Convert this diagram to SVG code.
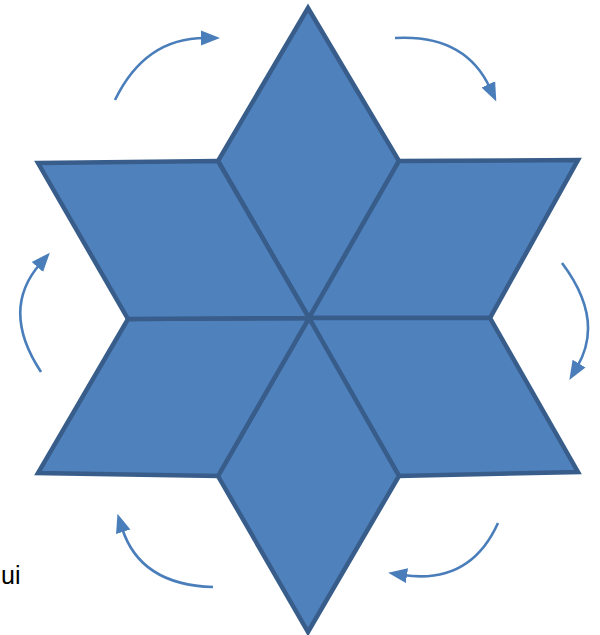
<svg xmlns="http://www.w3.org/2000/svg" width="600" height="635" viewBox="0 0 600 635">
<style>
.rh{fill:#4f81bd;stroke:#385d8a;stroke-width:4.5;stroke-linejoin:miter}
.ar{fill:none;stroke:#4a7ebb;stroke-width:2.6;marker-end:url(#ah)}
.t{font-family:"Liberation Sans",Arial,sans-serif;font-size:25px;fill:#000}
</style>
<defs>
<marker id="ah" markerUnits="userSpaceOnUse" markerWidth="19" markerHeight="17" viewBox="0 0 19 17" refX="4" refY="8.5" orient="auto">
<path d="M0,1 L19,8.5 L0,16 Z" fill="#4a7ebb"/>
</marker>
</defs>
<rect width="600" height="635" fill="#fff"/>
<g id="star">
<g id="rh-top"><polygon class="rh" points="308,8 399,161 309,318 218,161"/></g>
<g id="rh-upper-right"><polygon class="rh" points="399,161 578,160 490,318 309,318"/></g>
<g id="rh-lower-right"><polygon class="rh" points="309,318 490,318 578,472 399,476"/></g>
<g id="rh-bottom"><polygon class="rh" points="309,318 399,476 308,632 218,476"/></g>
<g id="rh-lower-left"><polygon class="rh" points="128,319 309,318 218,476 38,473"/></g>
<g id="rh-upper-left"><polygon class="rh" points="38,163 218,161 309,318 128,319"/></g>
</g>
<g id="connectors">
<path class="ar" d="M115,100 Q145,38 205,38"/>
<path class="ar" d="M395,38 Q465,34 490,88"/>
<path class="ar" d="M562,263 Q605,320 577,367"/>
<path class="ar" d="M498,523 Q470,585 403,575"/>
<path class="ar" d="M213,587 Q140,585 122,528"/>
<path class="ar" d="M41,372 Q0,310 40,264"/>
</g>
<text class="t" x="1" y="584">ui</text>
</svg>
